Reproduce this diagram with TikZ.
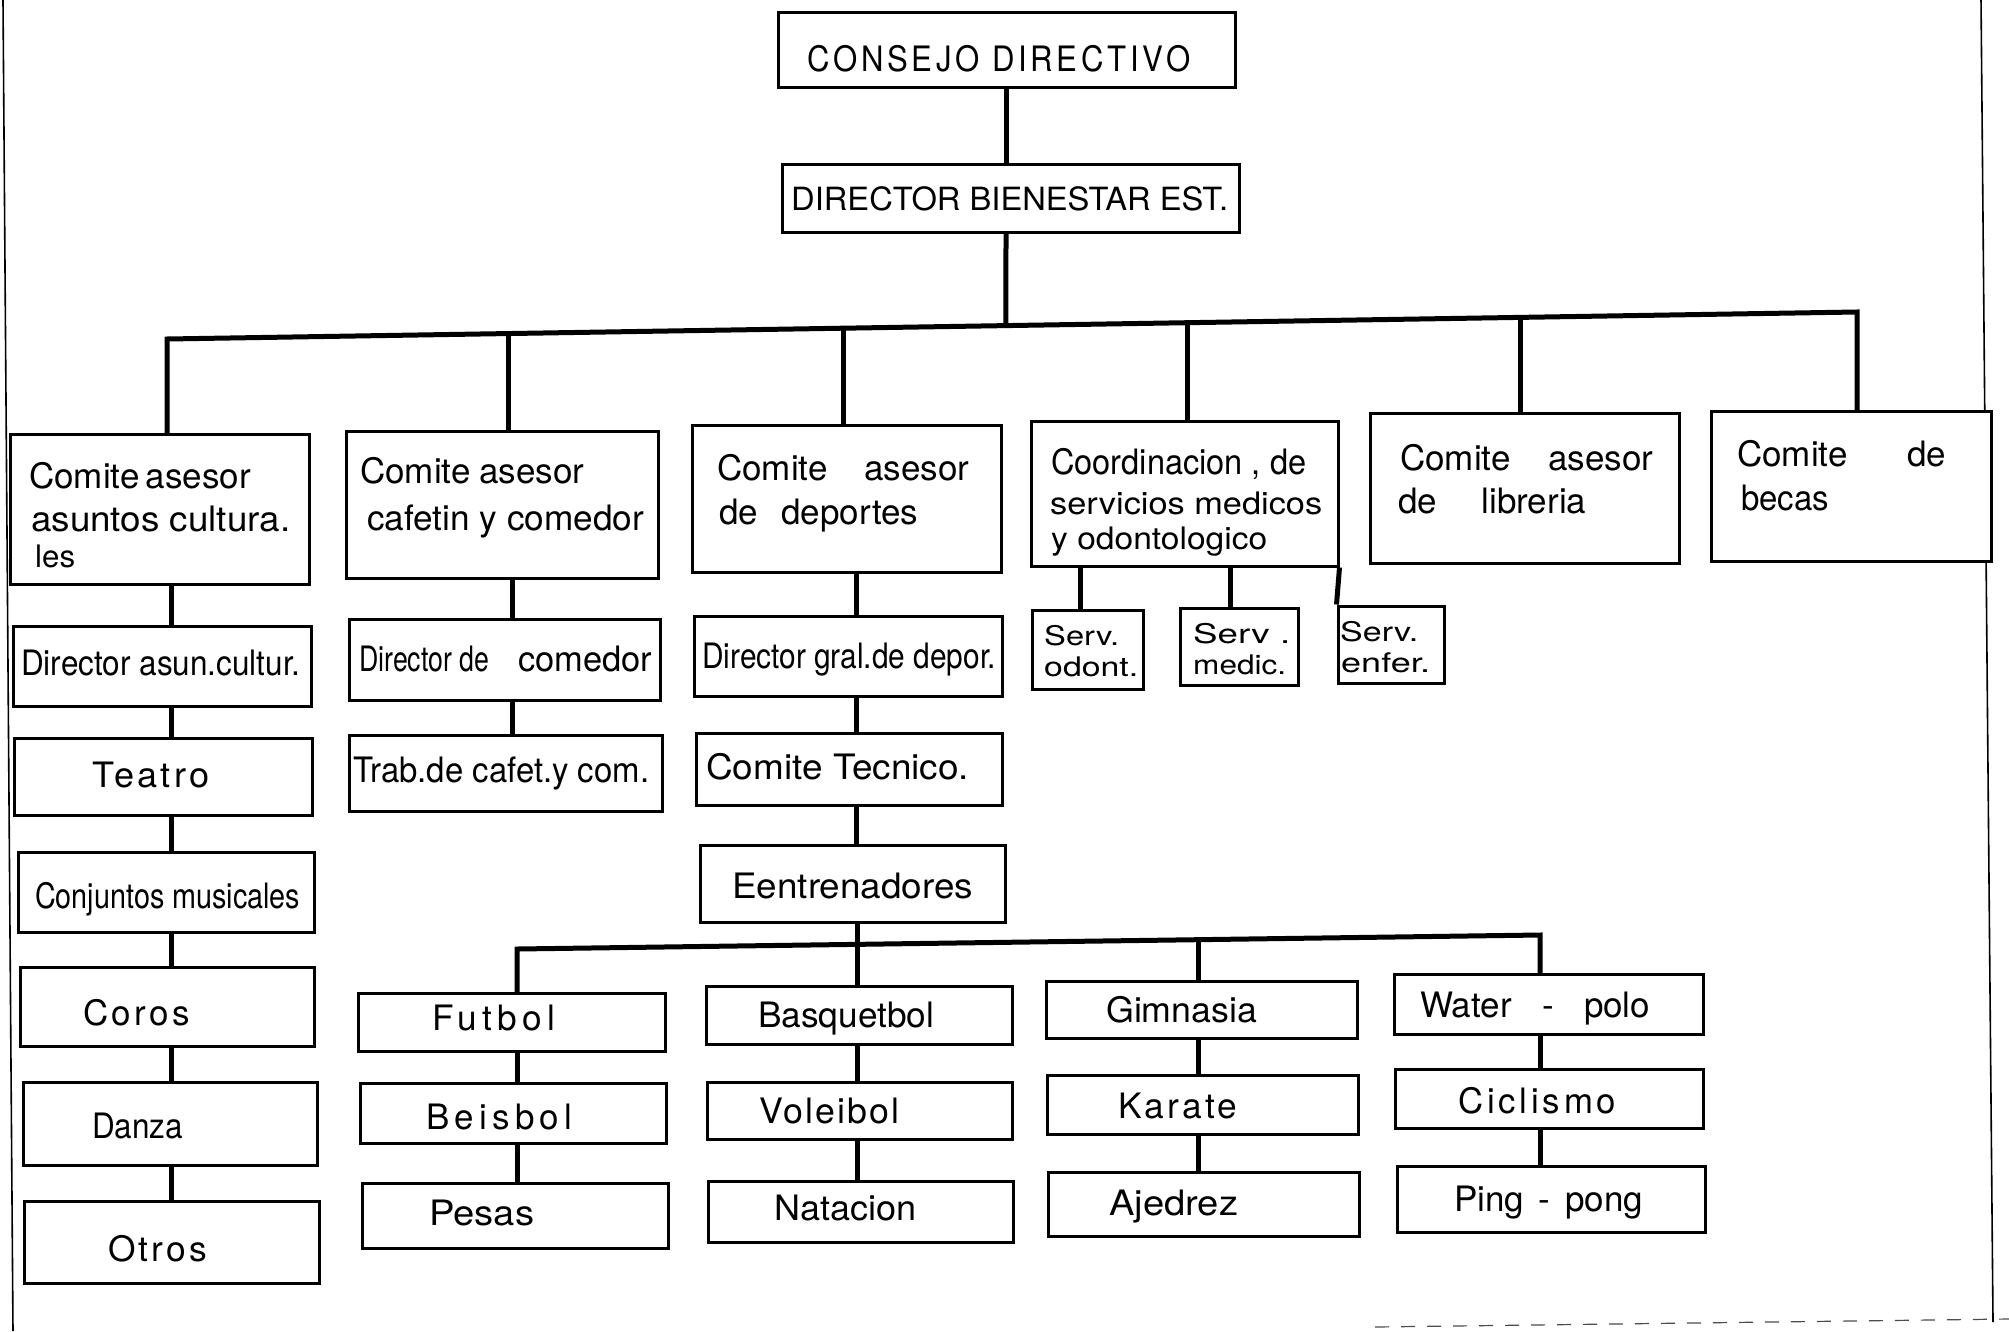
\documentclass[tikz,border=0pt]{standalone}
\usepackage{fontspec}
\setmainfont{TeX Gyre Heros}
\usepackage{graphicx}
\usetikzlibrary{calc}
\newcommand\fw[2]{\resizebox{#1pt}{\height}{#2}}
\newcommand\sw[2]{\makebox[#1pt][s]{#2}}
\newcommand\lw[3]{\resizebox{#2pt}{\height}{\addfontfeature{LetterSpace=#1}#3}}
\newcommand\bx[5]{\node[bxs, minimum width={(#4-#2)*1pt}, minimum height={(#5-#3)*1pt}] (#1) at ({(#2+#4)/2},{(#3+#5)/2}) {};}
\newcommand\tx[5][]{\node[txt,#1] (#2) at (#3,#4) {#5};}
\begin{document}
\begin{tikzpicture}[x=1pt,y=-1pt,
  bxs/.style={draw, line width=3pt, inner sep=0pt, fill=white},
  con/.style={line width=5pt, line join=miter},
  txt/.style={inner sep=0pt, anchor=base west, font=\fontsize{35}{40}\selectfont},
  mid/.style={font=\fontsize{31}{34}\selectfont},
  sm/.style={font=\fontsize{27}{30}\selectfont}]
\fill[white] (0,0) rectangle (2009,1331);
\useasboundingbox (0,0) rectangle (2009,1331);
% page edges of the scan
\draw[line width=1.6pt] (3,0) -- (13,1331);
\draw[line width=1.6pt] (1981,0) -- (1993,1322);
\draw[line width=1.2pt, black!70, dash pattern=on 14pt off 12pt] (1375,1327) -- (2009,1319);

% coordinates
\coordinate (m) at (1006,0);
\coordinate (busL) at (167,339);
\coordinate (busR) at (1857,312);
\coordinate (busM) at ($(busL)!0.4964!(busR)$);
\coordinate (b2) at ($(busL)!0.2018!(busR)$);
\coordinate (b3) at ($(busL)!0.4!(busR)$);
\coordinate (b4) at ($(busL)!0.6036!(busR)$);
\coordinate (b5) at ($(busL)!0.8006!(busR)$);
\coordinate (k1) at (171,0);
\coordinate (k2) at (512,0);
\coordinate (k3) at (856,0);
\coordinate (sL) at (517,949);
\coordinate (sR) at (1540,935);
\coordinate (sB) at ($(sL)!0.3333!(sR)$);
\coordinate (sC) at ($(sL)!0.6657!(sR)$);
\coordinate (ko) at (1080,0);
\coordinate (km) at (1230,0);

% connectors
\draw[con] (m |- 0,87) -- (m |- 0,164);
\draw[con] (m |- 0,232) -- (busM);
\draw[con] (167,434) -- (busL) -- (busR) -- (1857,411);
\draw[con] (b2) -- (b2 |- 0,431);
\draw[con] (b3) -- (b3 |- 0,425);
\draw[con] (b4) -- (b4 |- 0,421);
\draw[con] (b5) -- (b5 |- 0,413);
\draw[con] (517,993) -- (sL) -- (sR) -- (1540,974);
\draw[con] (sB) -- (sB |- 0,986);
\draw[con] (sC) -- (sC |- 0,981);

% boxes
\bx{consejo}{778}{12}{1235}{87}
\bx{director}{782}{164}{1239}{232}
\bx{c1}{10}{434}{309}{584}
\bx{c2}{346}{431}{658}{578}
\bx{c3}{692}{425}{1001}{572}
\bx{c4}{1031}{421}{1338}{566}
\bx{c5}{1370}{413}{1679}{563}
\bx{c6}{1711}{411}{1991}{561}
\bx{da}{13}{626}{311}{706}
\bx{teatro}{14}{738}{312}{815}
\bx{conj}{18}{852}{314}{932}
\bx{coros}{20}{967}{314}{1046}
\bx{danza}{23}{1082}{317}{1165}
\bx{otros}{24}{1201}{319}{1283}
\bx{dcom}{349}{619}{660}{700}
\bx{trab}{349}{735}{662}{811}
\bx{dgral}{694}{616}{1002}{696}
\bx{ctec}{696}{733}{1002}{805}
\bx{eent}{700}{845}{1005}{922}
\bx{futbol}{358}{993}{665}{1051}
\bx{beisbol}{360}{1083}{666}{1143}
\bx{pesas}{362}{1183}{668}{1248}
\bx{basq}{706}{986}{1012}{1044}
\bx{volei}{707}{1082}{1012}{1139}
\bx{nat}{708}{1181}{1013}{1242}
\bx{gim}{1046}{981}{1357}{1038}
\bx{kar}{1047}{1075}{1358}{1134}
\bx{aje}{1048}{1172}{1359}{1236}
\bx{water}{1394}{974}{1703}{1034}
\bx{cic}{1395}{1069}{1703}{1128}
\bx{ping}{1397}{1166}{1705}{1232}
\bx{odont}{1032}{610}{1143}{689}
\bx{medic}{1180}{608}{1298}{685}
\bx{enfer}{1338}{606}{1444}{683}

% vertical chains
\draw[con] (c1.south -| k1) -- (da.north -| k1);
\draw[con] (da.south -| k1) -- (teatro.north -| k1);
\draw[con] (teatro.south -| k1) -- (conj.north -| k1);
\draw[con] (conj.south -| k1) -- (coros.north -| k1);
\draw[con] (coros.south -| k1) -- (danza.north -| k1);
\draw[con] (danza.south -| k1) -- (otros.north -| k1);
\draw[con] (c2.south -| k2) -- (dcom.north -| k2);
\draw[con] (dcom.south -| k2) -- (trab.north -| k2);
\draw[con] (c3.south -| k3) -- (dgral.north -| k3);
\draw[con] (dgral.south -| k3) -- (ctec.north -| k3);
\draw[con] (ctec.south -| k3) -- (eent.north -| k3);
\draw[con] (eent.south -| sB) -- (sB);
\draw[con] (futbol.south -| sL) -- (beisbol.north -| sL);
\draw[con] (beisbol.south -| sL) -- (pesas.north -| sL);
\draw[con] (basq.south -| sB) -- (volei.north -| sB);
\draw[con] (volei.south -| sB) -- (nat.north -| sB);
\draw[con] (gim.south -| sC) -- (kar.north -| sC);
\draw[con] (kar.south -| sC) -- (aje.north -| sC);
\draw[con] (water.south -| sR) -- (cic.north -| sR);
\draw[con] (cic.south -| sR) -- (ping.north -| sR);
\draw[con] (c4.south -| ko) -- (odont.north -| ko);
\draw[con] (c4.south -| km) -- (medic.north -| km);
\draw[con] (c4.south east) -- (enfer.north west);

% texts
\tx{tconsejo}{807}{71}{\lw{12}{383}{CONSEJO DIRECTIVO}}
\tx[font=\fontsize{32}{36}\selectfont]{tdirector}{791}{210}{\fw{437}{DIRECTOR BIENESTAR EST.}}
\tx{c1a}{29}{488}{\sw{217}{Comite asesor}}
\tx{c1b}{31}{531}{\fw{259}{asuntos cultura.}}
\tx[mid]{c1c}{35}{567}{\fw{40}{les}}
\tx{c2a}{360}{483}{\sw{224}{Comite asesor}}
\tx{c2b}{367}{530}{\fw{277}{cafetin y comedor}}
\tx{c3a}{717}{480}{\sw{252}{Comite asesor}}
\tx{c3b}{719}{524}{\sw{199}{de deportes}}
\tx{c4a}{1051}{474}{\fw{255}{Coordinacion , de}}
\tx[mid]{c4b}{1050}{514}{\fw{272}{servicios medicos}}
\tx[mid]{c4c}{1051}{549}{\fw{216}{y odontologico}}
\tx{c5a}{1400}{470}{\sw{253}{Comite asesor}}
\tx{c5b}{1398}{513}{\sw{188}{de libreria}}
\tx{c6a}{1737}{466}{\sw{209}{Comite de}}
\tx{c6b}{1741}{510}{\fw{88}{becas}}
\tx{tda}{21}{675}{\fw{279}{Director asun.cultur.}}
\tx{tteatro}{92}{787}{\lw{9}{117}{Teatro}}
\tx{tconj}{35}{908}{\fw{265}{Conjuntos musicales}}
\tx{tcoros}{83}{1025}{\lw{10}{107}{Coros}}
\tx{tdanza}{92}{1138}{\fw{91}{Danza}}
\tx{totros}{108}{1261}{\lw{9}{99}{Otros}}
\tx{tdcom}{359}{671}{\sw{293}{\fw{130}{Director de} \fw{134}{comedor}}}
\tx{ttrab}{353}{782}{\fw{296}{Trab.de cafet.y com.}}
\tx{tdgral}{702}{668}{\fw{294}{Director gral.de depor.}}
\tx{tctec}{706}{779}{\fw{263}{Comite Tecnico.}}
\tx{teent}{732}{898}{\fw{241}{Eentrenadores}}
\tx{tfutbol}{432}{1030}{\lw{15}{123}{Futbol}}
\tx{tbeisbol}{426}{1129}{\lw{15}{146}{Beisbol}}
\tx{tpesas}{429}{1225}{\fw{105}{Pesas}}
\tx{tbasq}{758}{1027}{\fw{176}{Basquetbol}}
\tx{tvolei}{759}{1123}{\lw{6}{140}{Voleibol}}
\tx{tnat}{774}{1220}{\fw{142}{Natacion}}
\tx{tgim}{1106}{1022}{\fw{151}{Gimnasia}}
\tx{tkar}{1118}{1118}{\lw{9}{119}{Karate}}
\tx{taje}{1109}{1215}{\fw{129}{Ajedrez}}
\tx{twater}{1420}{1017}{\sw{230}{Water - polo}}
\tx{tcic}{1458}{1113}{\lw{11}{158}{Ciclismo}}
\tx{tping}{1454}{1211}{\sw{189}{Ping - pong}}
\tx[sm]{todonta}{1044}{645}{\fw{75}{Serv.}}
\tx[sm]{todontb}{1044}{676}{\fw{94}{odont.}}
\tx[sm]{tmedica}{1193}{643}{\fw{97}{Serv .}}
\tx[sm]{tmedicb}{1193}{674}{\fw{93}{medic.}}
\tx[sm]{tenfera}{1340}{641}{\fw{78}{Serv.}}
\tx[sm]{tenferb}{1341}{672}{\fw{89}{enfer.}}
\end{tikzpicture}
\end{document}
